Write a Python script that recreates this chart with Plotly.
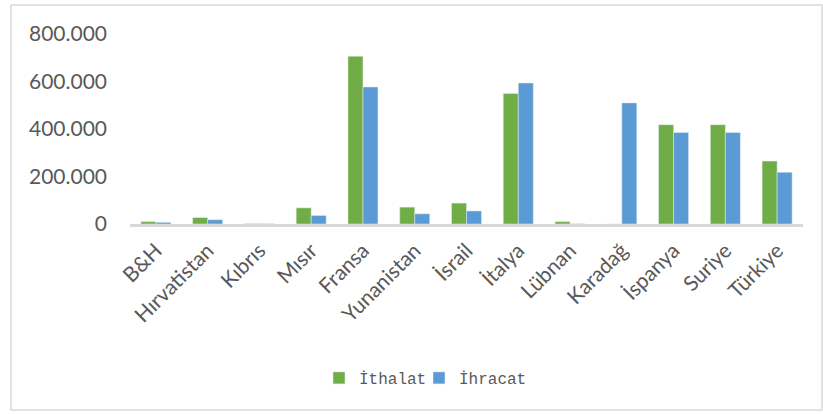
import plotly.graph_objects as go

categories = ["B&H", "Hırvatistan", "Kıbrıs", "Mısır", "Fransa", "Yunanistan", "İsrail",
              "İtalya", "Lübnan", "Karadağ", "İspanya", "Suriye", "Türkiye"]
ithalat = [10000, 27000, 1500, 68000, 706000, 71000, 88000, 549000, 10000, 0, 418000, 418000, 265000]
ihracat = [7000, 18000, 1000, 36000, 577000, 43000, 55000, 594000, 1000, 510000, 385000, 385000, 218000]
y_ticks = [0, 200000, 400000, 600000, 800000]

fig = go.Figure()
fig.add_trace(go.Bar(name="İthalat", x=categories, y=ithalat, marker_color="#70AD47", legend="legend"))
fig.add_trace(go.Bar(name="İhracat", x=categories, y=ihracat, marker_color="#5B9BD5", legend="legend2"))

L, R, T, B = 130, 20, 34, 190
W, H = 823, 414
pw, ph = W - L - R, H - T - B

def px(x):
    return (x - L) / pw

def py(y):
    return (H - B - y) / ph

legend_style = dict(orientation="h", yanchor="middle", xanchor="left", y=py(378),
                    font=dict(family="Liberation Mono", size=16, color="#595959"),
                    itemwidth=30, bgcolor="rgba(0,0,0,0)")

fig.update_layout(
    width=W, height=H,
    margin=dict(l=L, r=R, t=T, b=B),
    paper_bgcolor="white", plot_bgcolor="white",
    separators=",.",
    barmode="group", bargap=0.42, bargroupgap=0,
    font=dict(family="Lato", color="#595959"),
    showlegend=True,
    legend=dict(x=px(319), **legend_style),
    legend2=dict(x=px(419), **legend_style),
    shapes=[dict(type="rect", xref="paper", yref="paper",
                 x0=px(11), x1=px(822), y0=py(410), y1=py(5),
                 line=dict(color="#D9D9D9", width=1.5), fillcolor="rgba(0,0,0,0)", layer="below")],
)
fig.update_yaxes(range=[0, 800000], tickvals=y_ticks, tickformat=",.0f", showgrid=False,
                 zeroline=False, showline=False, ticklabelstandoff=22,
                 tickfont=dict(family="Lato", size=21, color="#595959"))
fig.update_xaxes(showline=True, linecolor="#D9D9D9", linewidth=3, tickangle=-45, showgrid=False,
                 ticks="", ticklabelstandoff=3, tickfont=dict(family="Lato", size=21, color="#595959"))

fig.write_html("out.html", config={"displayModeBar": False},
               post_script="document.body.style.margin='0';document.body.style.overflow='hidden';")
